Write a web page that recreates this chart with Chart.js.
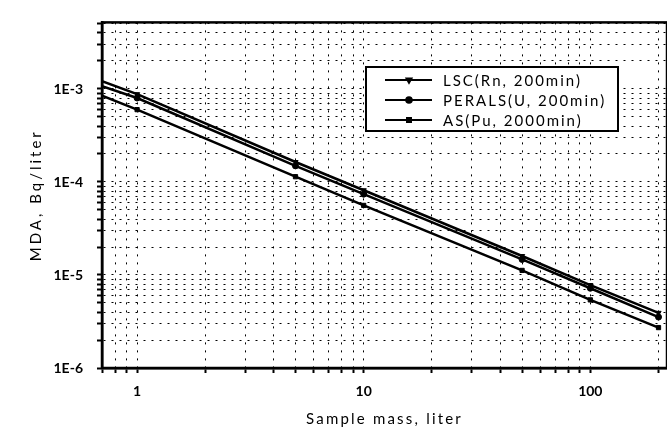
<!DOCTYPE html>
<html>
<head>
<meta charset="utf-8">
<script src="https://cdn.jsdelivr.net/npm/chart.js@4"></script>
<style>
  html, body { margin: 0; padding: 0; background: #fff; overflow: hidden; }
  #wrap { width: 672px; height: 430px; }
</style>
</head>
<body>
<div id="wrap"><canvas id="mdaChart"></canvas></div>
<script>
// Sample mass (liter) and MDA values (Bq/liter)
const massValues = [0.7, 1, 5, 10, 50, 100, 200];
const lscValues = [1.21e-3, 8.8e-4, 1.64e-4, 8.15e-5, 1.6e-5, 7.8e-6, 3.92e-6];
const peralsValues = [1.07e-3, 8.0e-4, 1.49e-4, 7.4e-5, 1.47e-5, 7.2e-6, 3.53e-6];
const asValues = [8.46e-4, 6.0e-4, 1.14e-4, 5.6e-5, 1.12e-5, 5.4e-6, 2.72e-6];

const seriesLabels = ["LSC(Rn, 200min)", "PERALS(U, 200min)", "AS(Pu, 2000min)"];
const xTitle = "Sample mass, liter";
const yTitle = "MDA, Bq/liter";

// Tick values / labels
const xMajorTicks = [1, 10, 100];
const xMajorLabels = ["1", "10", "100"];
const yMajorTicks = [1e-6, 1e-5, 1e-4, 1e-3];
const yMajorLabels = ["1E-6", "1E-5", "1E-4", "1E-3"];
const xRange = [0.7, 218];
const yRange = [1e-6, 5.2e-3];

const FONT = "Lato, 'DejaVu Sans', sans-serif";

// minor ticks 1..9 in every decade inside the range
function logTicks(min, max) {
    const out = [];
    for (let e = Math.floor(Math.log10(min)); e <= Math.ceil(Math.log10(max)); e++) {
        for (let s = 1; s <= 9; s++) {
            const v = parseFloat((s * Math.pow(10, e)).toPrecision(6));
            if (v >= min * 0.999 && v <= max * 1.001) out.push(v);
        }
    }
    return out;
}

function toPoints(ys) {
    return massValues.map((x, i) => ({ x: x, y: ys[i] }));
}

function makeDataset(label, values, style, rotation) {
    return {
        label: label,
        data: toPoints(values),
        borderColor: "#000",
        backgroundColor: "#000",
        borderWidth: 2.5,
        pointStyle: style,
        pointRotation: rotation,
        pointRadius: massValues.map((x, i) => i === 0 ? 0 : 3),
        pointBorderWidth: 1,
        tension: 0
    };
}

// Frame, axis titles (spaced lettering) and the boxed legend
const framePlugin = {
    id: "framePlugin",
    afterDraw(chart) {
        const { ctx, chartArea } = chart;
        ctx.save();
        ctx.strokeStyle = "#000";
        ctx.lineWidth = 2.5;
        ctx.strokeRect(chartArea.left, chartArea.top, chartArea.right - chartArea.left, chartArea.bottom - chartArea.top);

        // axis titles
        ctx.fillStyle = "#000";
        ctx.font = "15px " + FONT;
        ctx.letterSpacing = "2.2px";
        ctx.textAlign = "center";
        ctx.textBaseline = "middle";
        ctx.fillText(xTitle, (chartArea.left + chartArea.right) / 2, 419);
        ctx.save();
        ctx.translate(36, (chartArea.top + chartArea.bottom) / 2);
        ctx.rotate(-Math.PI / 2);
        ctx.letterSpacing = "3px";
        ctx.fillText(yTitle, 0, 0);
        ctx.restore();

        // legend box
        const bx = 366, by = 67, bw = 252, bh = 64;
        ctx.fillStyle = "#fff";
        ctx.fillRect(bx, by, bw, bh);
        ctx.lineWidth = 2;
        ctx.strokeRect(bx, by, bw, bh);

        chart.data.datasets.forEach((ds, i) => {
            const y = by + 13 + i * 20;
            ctx.strokeStyle = "#000";
            ctx.lineWidth = 2;
            ctx.beginPath();
            ctx.moveTo(385, y);
            ctx.lineTo(432, y);
            ctx.stroke();
            ctx.fillStyle = "#000";
            Chart.helpers.drawPoint(ctx, { pointStyle: ds.pointStyle, rotation: ds.pointRotation, radius: 2.8, borderWidth: 1 }, 409, y);
            ctx.font = "15px " + FONT;
            ctx.letterSpacing = "2px";
            ctx.textBaseline = "middle";
            ctx.textAlign = "left";
            ctx.fillText(ds.label, 443, y + 1);
        });
        ctx.restore();
    }
};

const ctx = document.getElementById("mdaChart").getContext("2d");
new Chart(ctx, {
    type: "line",
    data: {
        datasets: [
            makeDataset(seriesLabels[0], lscValues, "triangle", 180),
            makeDataset(seriesLabels[1], peralsValues, "circle", 0),
            makeDataset(seriesLabels[2], asValues, "rect", 0)
        ]
    },
    options: {
        responsive: true,
        maintainAspectRatio: false,
        animation: false,
        layout: { padding: { top: 9, right: 2, left: 0, bottom: 0 } },
        plugins: {
            legend: { display: false },
            tooltip: { enabled: false }
        },
        scales: {
            x: {
                type: "logarithmic",
                min: xRange[0],
                max: xRange[1],
                afterBuildTicks: (scale) => {
                    scale.ticks = logTicks(xRange[0], xRange[1]).map(v => ({ value: v }));
                },
                afterFit: (scale) => { scale.height = 62; },
                grid: {
                    color: "#000",
                    lineWidth: 1,
                    tickLength: 5,
                    tickWidth: 2,
                    tickColor: "#000"
                },
                border: { display: true, color: "#000", width: 2.5, dash: [2, 6] },
                ticks: {
                    autoSkip: false,
                    maxRotation: 0,
                    padding: 10,
                    color: "#000",
                    font: { family: FONT, size: 14, weight: "bold" },
                    callback: (value) => {
                        const idx = xMajorTicks.indexOf(value);
                        return idx >= 0 ? xMajorLabels[idx] : "";
                    }
                },
                title: { display: false }
            },
            y: {
                type: "logarithmic",
                min: yRange[0],
                max: yRange[1],
                afterBuildTicks: (scale) => {
                    scale.ticks = logTicks(yRange[0], yRange[1]).map(v => ({ value: v }));
                },
                afterFit: (scale) => { scale.width = 102; },
                grid: {
                    color: "#000",
                    lineWidth: 1,
                    tickLength: 5,
                    tickWidth: 2,
                    tickColor: "#000"
                },
                border: { display: true, color: "#000", width: 2.5, dash: [2, 6] },
                ticks: {
                    autoSkip: false,
                    padding: 14,
                    color: "#000",
                    font: { family: FONT, size: 14, weight: "bold" },
                    callback: (value) => {
                        const idx = yMajorTicks.findIndex(t => Math.abs(t - value) / t < 1e-6);
                        return idx >= 0 ? yMajorLabels[idx] : "";
                    }
                },
                title: { display: false }
            }
        }
    },
    plugins: [framePlugin]
});
</script>
</body>
</html>
